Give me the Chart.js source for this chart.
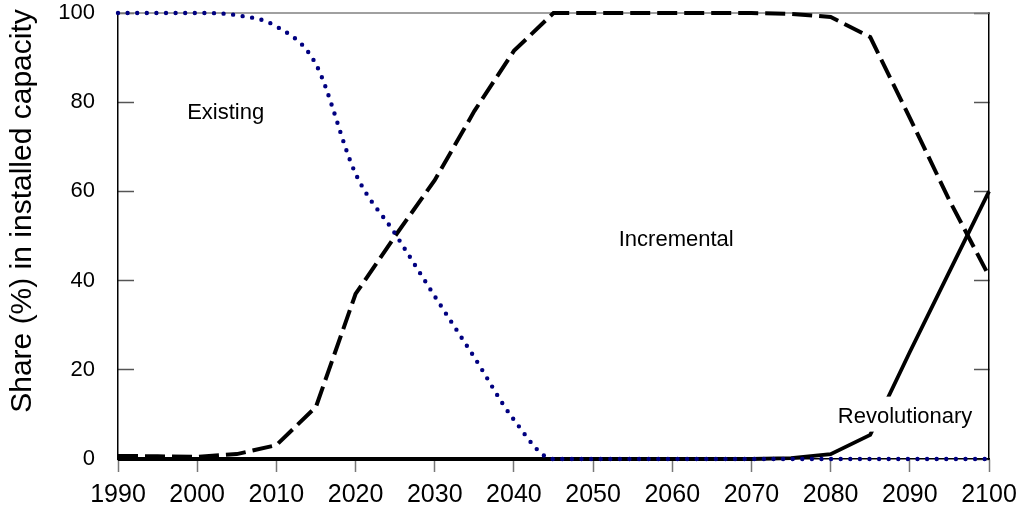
<!DOCTYPE html>
<html>
<head>
<meta charset="utf-8">
<script src="https://cdn.jsdelivr.net/npm/chart.js@4.4.1/dist/chart.umd.min.js"></script>
<style>
  html, body { margin: 0; padding: 0; background: #fff; }
  canvas { display: block; }
</style>
</head>
<body>
<canvas id="c" width="1029" height="511"></canvas>
<script>
// Share of installed capacity by technology generation, 1990-2100
const years = [1990, 1995, 2000, 2005, 2010, 2015, 2020, 2025, 2030, 2035, 2040, 2045,
               2050, 2055, 2060, 2065, 2070, 2075, 2080, 2085, 2090, 2095, 2100];
const existing = [100, 100, 100, 99.5, 97, 88.5, 64, 50.5, 36.5, 22.8, 8.8, 0,
                  0, 0, 0, 0, 0, 0, 0, 0, 0, 0, 0];
const incremental = [0.7, 0.6, 0.5, 1.1, 3.1, 11.7, 37, 50, 62.5, 78, 91.5, 100,
                     100, 100, 100, 100, 100, 99.8, 99.1, 94.6, 76.5, 58, 41];
const revolutionary = [0, 0, 0, 0, 0, 0, 0, 0, 0, 0, 0, 0,
                       0, 0, 0, 0, 0, 0.2, 1.1, 5.4, 24, 42, 60];

const xTicks = [1990, 2000, 2010, 2020, 2030, 2040, 2050, 2060, 2070, 2080, 2090, 2100];
const yTicks = [0, 20, 40, 60, 80, 100];

const seriesNames = ['Existing', 'Incremental', 'Revolutionary'];
// where each series name is written, in data units (year, share)
const nameYears = [2003.6, 2060.5, 2089.4];
const nameShares = [77.6, 49.1, 9.5];
const yTitle = 'Share (%) in installed capacity';

const FONT = "'Liberation Sans', Arial, Helvetica, sans-serif";
Chart.defaults.font.family = FONT;
Chart.defaults.color = '#000';

const toPoints = vals => years.map((y, i) => ({ x: y, y: vals[i] }));

// fixed axis sizes so the plot area sits where intended
const fixVertical = w => s => { s.width = w; s.paddingTop = 0; s.paddingBottom = 0; };

const decorations = {
  id: 'decorations',
  beforeDatasetsDraw(chart) {
    const { ctx, chartArea: a } = chart;
    ctx.save();
    ctx.strokeStyle = '#808080';
    ctx.lineWidth = 1.5;
    ctx.beginPath();
    ctx.moveTo(a.left, a.top);
    ctx.lineTo(a.right, a.top);
    ctx.stroke();
    ctx.restore();
  },
  afterDatasetsDraw(chart) {
    const { ctx } = chart;
    const xs = chart.scales.x, ys = chart.scales.y;
    ctx.save();
    ctx.font = '22px ' + FONT;
    ctx.textAlign = 'center';
    ctx.textBaseline = 'middle';
    seriesNames.forEach((name, i) => {
      const px = xs.getPixelForValue(nameYears[i]);
      const py = ys.getPixelForValue(nameShares[i]);
      if (i === 2) {
        const w = ctx.measureText(name).width;
        ctx.fillStyle = '#fff';
        ctx.fillRect(px - w / 2 - 2, py - 20, w + 4, 35);
      }
      ctx.fillStyle = '#000';
      ctx.fillText(name, px, py);
    });
    ctx.restore();
  },
  afterDraw(chart) {
    const { ctx } = chart;
    ctx.save();
    ctx.translate(23, 211);
    ctx.rotate(-Math.PI / 2);
    ctx.font = '30px ' + FONT;
    ctx.fillStyle = '#000';
    ctx.textAlign = 'center';
    ctx.textBaseline = 'middle';
    ctx.fillText(yTitle, 0, 0);
    ctx.restore();
  }
};

new Chart(document.getElementById('c'), {
  type: 'line',
  data: {
    datasets: [
      {
        label: seriesNames[0],
        data: toPoints(existing),
        borderColor: '#000080',
        borderWidth: 4.4,
        borderDash: [0, 9.6],
        borderCapStyle: 'round',
        cubicInterpolationMode: 'monotone',
        pointRadius: 0,
        clip: 8
      },
      {
        label: seriesNames[1],
        data: toPoints(incremental),
        borderColor: '#000',
        borderWidth: 4,
        borderDash: [20, 7],
        borderCapStyle: 'butt',
        borderJoinStyle: 'miter',
        tension: 0,
        pointRadius: 0,
        clip: 8
      },
      {
        label: seriesNames[2],
        data: toPoints(revolutionary),
        borderColor: '#000',
        borderWidth: 3.8,
        tension: 0,
        pointRadius: 0,
        clip: 8
      }
    ]
  },
  options: {
    responsive: false,
    animation: false,
    devicePixelRatio: 1,
    layout: { padding: { top: 13, left: 0, right: 0, bottom: 0 } },
    plugins: { legend: { display: false }, tooltip: { enabled: false } },
    scales: {
      x: {
        type: 'linear',
        min: 1990, max: 2100,
        afterBuildTicks: s => { s.ticks = xTicks.map(v => ({ value: v })); },
        afterFit: s => { s.height = 52; s.paddingLeft = 0; s.paddingRight = 0; },
        ticks: {
          font: { size: 25 }, padding: 8, maxRotation: 0, autoSkip: false, color: '#000',
          callback: v => String(v)
        },
        grid: { drawOnChartArea: false, tickLength: 13, color: '#777', tickWidth: 1.5 },
        border: { color: '#000', width: 1.5 }
      },
      y: {
        position: 'left',
        min: 0, max: 100,
        afterBuildTicks: s => { s.ticks = yTicks.map(v => ({ value: v })); },
        afterFit: fixVertical(118),
        ticks: { font: { size: 22 }, padding: 39, color: '#000', callback: v => String(v) },
        grid: { drawOnChartArea: false, tickLength: -16, color: '#555', tickWidth: 1.5 },
        border: { color: '#000', width: 1.5 }
      },
      y2: {
        position: 'right',
        min: 0, max: 100,
        afterBuildTicks: s => { s.ticks = yTicks.map(v => ({ value: v })); },
        afterFit: fixVertical(40),
        ticks: { display: false },
        grid: { drawOnChartArea: false, tickLength: -15, color: '#555', tickWidth: 1.5 },
        border: { color: '#000', width: 1.5 }
      }
    }
  },
  plugins: [decorations]
});
</script>
</body>
</html>
